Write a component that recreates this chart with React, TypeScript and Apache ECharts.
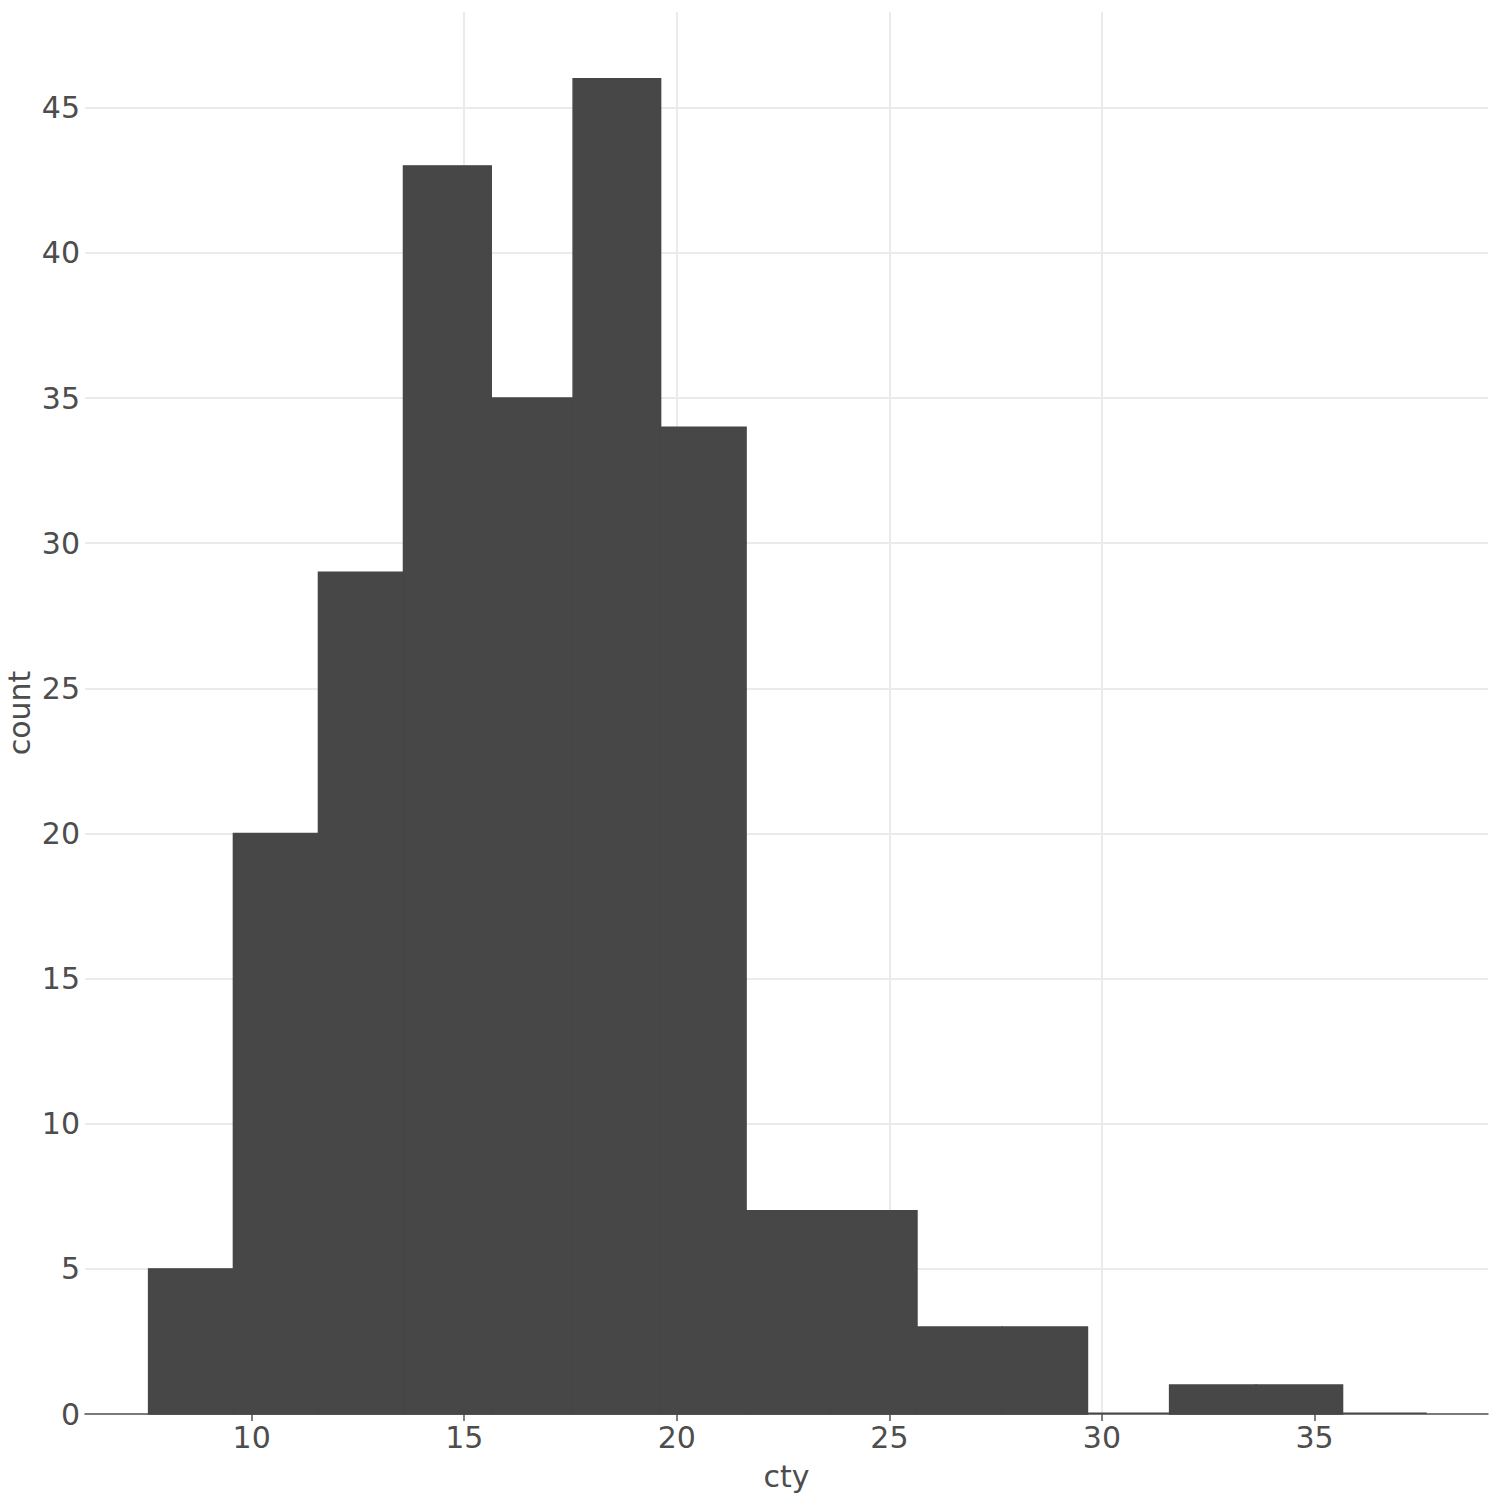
import React, { useEffect, useRef } from "react";
import * as echarts from "echarts";

// Histogram of cty: bin edges (width ≈ 2) and counts
const binEdges = [7.575, 9.57, 11.57, 13.57, 15.636, 17.56, 19.62, 21.63, 23.64, 25.65, 27.655, 29.66, 31.59, 33.625, 35.66, 37.64];
const counts = [5, 20, 29, 43, 35, 46, 34, 7, 7, 3, 3, 0, 1, 1, 0];
const xTicks = [10, 15, 20, 25, 30, 35];

const FONT = "DejaVu Sans";
const TXT = "#4D4D4D";
const BAR = "#474747";

export default function App() {
  const ref = useRef<HTMLDivElement>(null);
  useEffect(() => {
    if (!ref.current) return;
    const chart = echarts.init(ref.current, undefined, { renderer: "svg" });
    const data = counts.map((c, i) => [binEdges[i], binEdges[i + 1], c]);
    chart.setOption({
      animation: false,
      backgroundColor: "#ffffff",
      grid: { left: 85, right: 12, top: 12, bottom: 86, containLabel: false, outerBoundsMode: "none" },
      xAxis: {
        type: "value",
        min: 6.08,
        max: 39.08,
        name: "cty",
        nameLocation: "middle",
        nameGap: 47,
        nameMoveOverlap: false,
        nameTextStyle: { fontFamily: FONT, fontSize: 30, color: TXT },
        axisLine: { show: true, onZero: false, lineStyle: { color: "#555555", width: 1.5 } },
        axisTick: { show: true, length: 7, customValues: xTicks, lineStyle: { color: "#555555", width: 1.5 } },
        axisLabel: {
          customValues: xTicks,
          margin: 8,
          fontFamily: FONT,
          fontSize: 30,
          color: TXT,
        },
        splitLine: { show: true, showMinLine: false, showMaxLine: false, lineStyle: { color: "#EBEBEB", width: 2 } },
      },
      yAxis: {
        type: "value",
        min: 0,
        max: 48.3,
        interval: 5,
        name: "count",
        nameLocation: "middle",
        nameGap: 51,
        nameMoveOverlap: false,
        nameTextStyle: { fontFamily: FONT, fontSize: 30, color: TXT },
        axisLine: { show: false },
        axisTick: { show: false },
        axisLabel: {
          margin: 5,
          fontFamily: FONT,
          fontSize: 30,
          color: TXT,
          showMaxLabel: false,
        },
        splitLine: { show: true, showMaxLine: false, lineStyle: { color: "#EBEBEB", width: 2 } },
      },
      series: [
        {
          type: "custom",
          data,
          encode: { x: [0, 1], y: 2 },
          renderItem: (params: any, api: any) => {
            const x0 = api.value(0);
            const x1 = api.value(1);
            const c = api.value(2);
            const p0 = api.coord([x0, c]);
            const p1 = api.coord([x1, 0]);
            const h = p1[1] - p0[1];
            return {
              type: "rect",
              shape: { x: p0[0], y: c === 0 ? p1[1] - 1.5 : p0[1], width: p1[0] - p0[0], height: c === 0 ? 1.5 : h },
              style: { fill: BAR, stroke: c === 0 ? null : BAR, lineWidth: 1.4 },
            };
          },
          z: 3,
        },
      ],
    });
    return () => chart.dispose();
  }, []);
  return (
    <div
      ref={ref}
      style={{ position: "absolute", left: 0, top: 0, width: 1500, height: 1500, background: "#fff" }}
    />
  );
}
